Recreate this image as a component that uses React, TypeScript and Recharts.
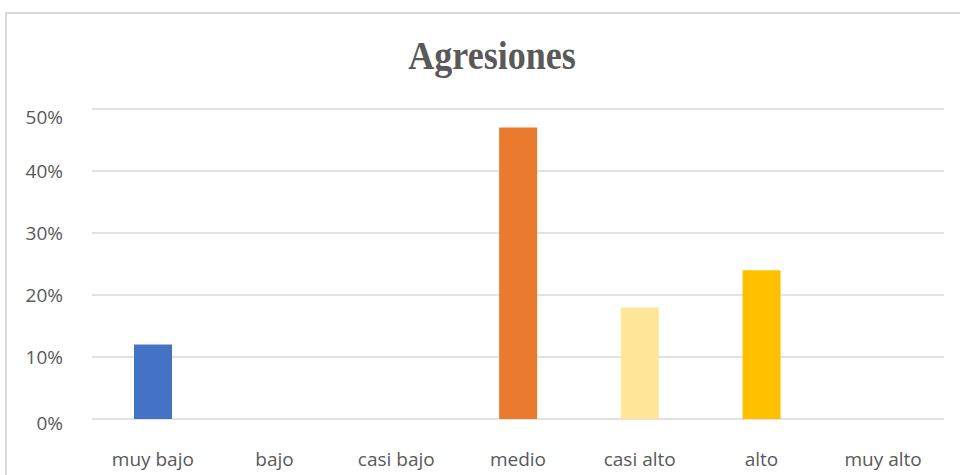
import { BarChart, Bar, XAxis, YAxis, CartesianGrid, Cell } from 'recharts'

const categories = ['muy bajo', 'bajo', 'casi bajo', 'medio', 'casi alto', 'alto', 'muy alto']
const values = [12, 0, 0, 47, 18, 24, 0]
const barColors = ['#4472C4', '#4472C4', '#4472C4', '#E97A2E', '#FFE699', '#FFC000', '#FFC000']
const yTicks = [0, 10, 20, 30, 40, 50]

const data = categories.map((name, i) => ({ name, value: values[i] }))

const font = "'Open Sans', 'Liberation Sans', sans-serif"

// Excel drew the top label a bit below its gridline
const YTick = (props: any) => {
  const { x, y, payload } = props
  const shift = payload.value === 50 ? 8 : payload.value === 0 ? 4 : 0
  return (
    <text x={x} y={y + shift} dy="0.36em" textAnchor="end" fontSize={19} fill="#595959" fontFamily={font}>
      {`${payload.value}%`}
    </text>
  )
}

export default function App() {
  return (
    <div style={{ position: 'absolute', left: 0, top: 0, width: 960, height: 475, background: '#fff', overflow: 'hidden' }}>
      <div
        style={{
          position: 'absolute', left: 5, top: 12, width: 960, height: 480,
          border: '2px solid #d9d9d9', boxSizing: 'border-box',
        }}
      />
      <div
        style={{
          position: 'absolute', left: 0, width: 984, top: 32, textAlign: 'center',
          fontFamily: "'Liberation Serif', 'DejaVu Serif', serif", fontWeight: 'bold',
          fontSize: 40, color: '#595959', transform: 'scaleX(0.9)', transformOrigin: '492px 0',
        }}
      >
        Agresiones
      </div>
      <div style={{ position: 'absolute', left: 0, top: 0 }}>
        <BarChart width={960} height={475} data={data} margin={{ top: 109, right: 16, left: 0, bottom: 16 }}>
          <CartesianGrid vertical={false} stroke="#d9d9d9" strokeWidth={1.5} />
          <XAxis
            dataKey="name"
            axisLine={false}
            tickLine={false}
            height={40}
            tickMargin={28}
            tick={{ fontSize: 19, fill: '#595959', fontFamily: font }}
            interval={0}
          />
          <YAxis
            domain={[0, 50]}
            ticks={yTicks}
            axisLine={false}
            tickLine={false}
            width={92}
            tickMargin={23}
            tick={<YTick />}
          />
          <Bar dataKey="value" barSize={38} isAnimationActive={false}>
            {data.map((_, i) => (
              <Cell key={i} fill={barColors[i]} />
            ))}
          </Bar>
        </BarChart>
      </div>
    </div>
  )
}
